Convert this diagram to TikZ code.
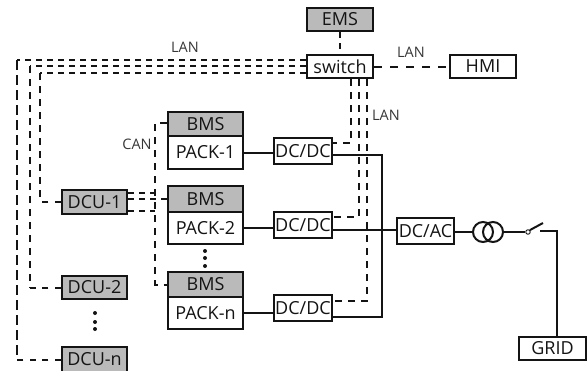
\documentclass[tikz,border=0pt]{standalone}
\usepackage{fontspec}
\setmainfont{Open Sans}
\definecolor{ink}{HTML}{141414}
\tikzset{
  box/.style={draw=ink,line width=2.1pt,fill=white,inner sep=0pt,text=ink,font=\fontsize{18}{20}\selectfont},
  graybox/.style={box,fill=black!27},
  wire/.style={draw=ink,line width=2pt},
  lan/.style={draw=ink,line width=2pt,dash pattern=on 6pt off 5pt},
  lanlong/.style={draw=ink,line width=2pt,dash pattern=on 7pt off 6pt},
  lanwide/.style={draw=ink,line width=2pt,dash pattern=on 8pt off 8pt},
  lanstub/.style={draw=ink,line width=2pt,dash pattern=on 6pt off 6.5pt},
  lab/.style={text=ink!85,inner sep=0pt,font=\fontsize{14.5}{16}\selectfont},
  dotmark/.style={circle,fill=ink,inner sep=0pt,minimum size=4pt},
}
\newcommand{\bx}[6]{\node[#1,minimum width=#5 pt-#3 pt,minimum height=#6 pt-#4 pt] (#2) at ({(#3+#5)/2},{(#4+#6)/2})}
\begin{document}
\begin{tikzpicture}[x=1pt,y=-1pt]
\useasboundingbox (0,0) rectangle (587,370);
% helper coordinates
\coordinate (o1) at (17,60);
\coordinate (o2) at (30,66);
\coordinate (o3) at (40,73);
\coordinate (c0) at (155,123);
\coordinate (s1) at (351,143);
\coordinate (s2) at (359,217);
\coordinate (s3) at (367,301);
\coordinate (bus) at (382,155);
% nodes
\bx{graybox}{ems}{307}{8}{373}{31} {EMS};
\bx{box}{sw}{307}{55}{373}{78} {switch};
\bx{box}{hmi}{450}{55}{516}{78} {HMI};
\bx{graybox}{bms1}{168}{112}{243}{136} {BMS};
\bx{box}{pack1}{168}{136}{243}{169} {PACK-1};
\bx{graybox}{bms2}{168}{186}{243}{212} {BMS};
\bx{box}{pack2}{168}{212}{243}{244} {PACK-2};
\bx{graybox}{bmsn}{168}{272}{243}{297} {BMS};
\bx{box}{packn}{168}{297}{243}{329} {PACK-n};
\bx{box}{dc1}{274}{138}{332}{164} {DC/DC};
\bx{box}{dc2}{274}{212}{332}{238} {DC/DC};
\bx{box}{dc3}{274}{295}{332}{321} {DC/DC};
\bx{graybox}{dcu1}{62}{190}{127}{214} {DCU-1};
\bx{graybox}{dcu2}{62}{276}{127}{299} {DCU-2};
\bx{graybox}{dcun}{62}{347}{127}{372} {DCU-n};
\bx{box}{dcac}{397}{218}{454}{244} {DC/AC};
\bx{box}{grid}{519}{337}{586}{360} {GRID};
% transformer and breaker
\node[draw=ink,line width=2pt,circle,minimum size=20pt,inner sep=0pt] (t1) at (483,232) {};
\node[draw=ink,line width=2pt,circle,minimum size=20pt,inner sep=0pt] (t2) at (493,232) {};
\node[draw=ink,line width=0.9pt,circle,fill=white,minimum size=4.5pt,inner sep=0pt] (brk) at (528,232) {};
\coordinate (blade) at (543,223);
\coordinate (cont) at (540,231);
\coordinate (down) at (557,231);
% solid wires
\draw[wire] (pack1.east) -- (pack1.east -| dc1.west);
\draw[wire] (pack2.east) -- (pack2.east -| dc2.west);
\draw[wire] (packn.east) -- (packn.east -| dc3.west);
\coordinate (d1o) at (dc1.east |- bus);
\coordinate (d3o) at (332,317);
\draw[wire] (d1o) -- (bus) |- (d3o);
\coordinate (d2o) at (332,230);
\draw[wire] (d2o) -- (d2o -| dcac.west);
\draw[wire] (dcac.east |- t1) -- (t1.west);
\draw[wire] (t2.east) -- (brk.west);
\draw[wire] (brk.north east) -- (blade);
\draw[wire] (cont) -- (down) -- (down |- grid.north);
% LAN dashes
\draw[lan] (ems.south) -- (sw.north);
\draw[lanwide] (sw.east) -- (sw.east -| hmi.west);
\draw[lan] (sw.west |- o1) -- (o1);
\draw[lanlong,dash pattern=on 10pt off 5pt] (o1) -- (o1 |- dcun.west);
\draw[lanstub] (dcun.west) -- (dcun.west -| o1);
\draw[lan] (sw.west |- o2) -- (o2);
\draw[lanlong] (o2) -- (o2 |- dcu2.west);
\draw[lanstub] (dcu2.west) -- (dcu2.west -| o2);
\draw[lan] (sw.west |- o3) -- (o3);
\draw[lanlong] (o3) -- (o3 |- dcu1.west);
\draw[lanstub] (dcu1.west) -- (dcu1.west -| o3);
\draw[lanlong] (s1 |- sw.south) -- (s1) -- (s1 -| dc1.east);
\draw[lanlong] (s2 |- sw.south) -- (s2) -- (s2 -| dc2.east);
\draw[lanlong] (s3 |- sw.south) -- (s3) -- (s3 -| dc3.east);
% CAN dashes
\draw[lanlong] (bms1.west |- c0) -- (c0) -- (c0 |- bmsn.west) -- (bmsn.west);
\coordinate (j1) at (155,193);
\coordinate (j2) at (155,211);
\draw[lan] (dcu1.east |- j1) -- (j1);
\draw[lan] (dcu1.east |- j2) -- (j2);
\draw[lan] (dcu1.east |- bms2.west) -- (bms2.west);
% labels
\node[lab] (l1) at (185,47) {LAN};
\node[lab] (l2) at (411,52) {LAN};
\node[lab] (l3) at (386,115) {LAN};
\node[lab] (l4) at (137,144) {CAN};
% dots
\foreach \n/\y in {a/251,b/258,c/266}{\node[dotmark] (p\n) at (205,\y) {};}
\foreach \n/\y in {a/313,b/322,c/329}{\node[dotmark] (q\n) at (95,\y) {};}
\end{tikzpicture}
\end{document}
